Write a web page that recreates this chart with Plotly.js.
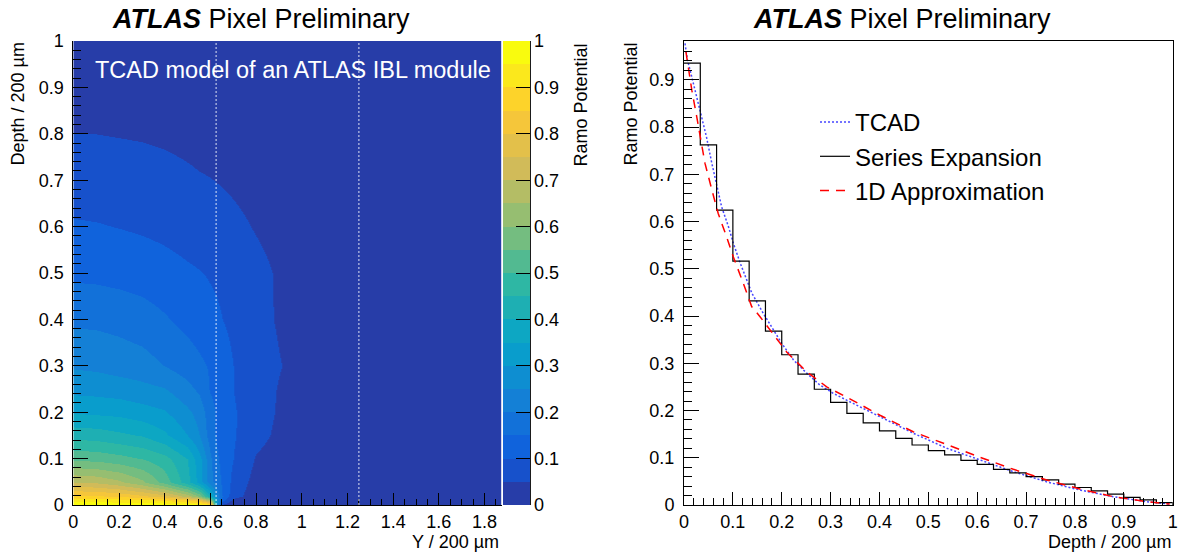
<!DOCTYPE html>
<html><head><meta charset="utf-8">
<script src="https://cdn.plot.ly/plotly-3.0.1.min.js"></script>
<style>html,body{margin:0;padding:0;background:#fff}#chart{width:1181px;height:552px}</style>
</head><body><div id="chart"></div>
<script>
// ---------------- DATA ----------------
// Left panel: Ramo potential map, x = Y / 200 um, rows = depth / 200 um
const mapY = [0, 0.1, 0.2, 0.3, 0.4, 0.5, 0.55, 0.6, 0.625, 0.65, 0.7, 0.8, 0.9, 1.0, 1.2, 1.5, 1.875];
const mapDepth = [0, 0.01, 0.02, 0.05, 0.1, 0.15, 0.2, 0.25, 0.3, 0.4, 0.5, 0.6, 0.7, 0.8, 0.9, 1.0];
const ramoD000 = [0.99, 0.99, 0.99, 0.99, 0.99, 0.99, 0.98, 0.94, 0.35, 0.04, 0, 0, 0, 0, 0, 0, 0];
const ramoD001 = [0.93, 0.93, 0.92, 0.91, 0.89, 0.85, 0.80, 0.64, 0.30, 0.12, 0.035, 0.01, 0, 0, 0, 0, 0];
const ramoD002 = [0.86, 0.855, 0.84, 0.81, 0.77, 0.68, 0.59, 0.40, 0.24, 0.15, 0.07, 0.02, 0.01, 0.005, 0, 0, 0];
const ramoD005 = [0.70, 0.69, 0.66, 0.61, 0.53, 0.42, 0.33, 0.22, 0.18, 0.14, 0.085, 0.03, 0.02, 0.012, 0.006, 0.003, 0];
const ramoD010 = [0.54, 0.535, 0.52, 0.50, 0.47, 0.40, 0.32, 0.21, 0.16, 0.135, 0.10, 0.045, 0.03, 0.02, 0.01, 0.005, 0.002];
const ramoD015 = [0.43, 0.425, 0.41, 0.395, 0.36, 0.30, 0.25, 0.175, 0.145, 0.13, 0.105, 0.065, 0.04, 0.025, 0.012, 0.006, 0.003];
const ramoD020 = [0.345, 0.34, 0.335, 0.32, 0.305, 0.26, 0.23, 0.17, 0.145, 0.135, 0.105, 0.07, 0.045, 0.03, 0.015, 0.008, 0.004];
const ramoD025 = [0.285, 0.282, 0.275, 0.265, 0.253, 0.215, 0.19, 0.145, 0.135, 0.125, 0.10, 0.07, 0.047, 0.032, 0.018, 0.009, 0.005];
const ramoD030 = [0.245, 0.24, 0.23, 0.22, 0.20, 0.175, 0.16, 0.145, 0.135, 0.125, 0.10, 0.075, 0.052, 0.035, 0.02, 0.01, 0.005];
const ramoD040 = [0.19, 0.188, 0.182, 0.172, 0.155, 0.135, 0.125, 0.113, 0.107, 0.10, 0.088, 0.065, 0.045, 0.03, 0.016, 0.008, 0.004];
const ramoD050 = [0.14, 0.138, 0.133, 0.127, 0.118, 0.107, 0.102, 0.096, 0.093, 0.09, 0.082, 0.062, 0.045, 0.03, 0.016, 0.008, 0.004];
const ramoD060 = [0.105, 0.103, 0.099, 0.094, 0.088, 0.08, 0.076, 0.071, 0.069, 0.067, 0.06, 0.047, 0.036, 0.026, 0.014, 0.007, 0.003];
const ramoD070 = [0.078, 0.076, 0.073, 0.069, 0.064, 0.057, 0.053, 0.051, 0.049, 0.047, 0.043, 0.035, 0.027, 0.02, 0.011, 0.005, 0.002];
const ramoD080 = [0.051, 0.05, 0.048, 0.046, 0.043, 0.039, 0.037, 0.035, 0.034, 0.033, 0.03, 0.025, 0.02, 0.015, 0.008, 0.004, 0.002];
const ramoD090 = [0.025, 0.025, 0.024, 0.023, 0.022, 0.02, 0.019, 0.018, 0.017, 0.017, 0.015, 0.012, 0.01, 0.008, 0.004, 0.002, 0.001];
const ramoD100 = [0, 0, 0, 0, 0, 0, 0, 0, 0, 0, 0, 0, 0, 0, 0, 0, 0];
const pixelEdges = [0.625, 1.25];
const colorbarTicks = [0, 0.1, 0.2, 0.3, 0.4, 0.5, 0.6, 0.7, 0.8, 0.9, 1];

// Right panel
const seriesBinValues = [0.935, 0.762, 0.624, 0.516, 0.432, 0.368, 0.318, 0.277, 0.245, 0.217,
  0.194, 0.174, 0.157, 0.141, 0.127, 0.115, 0.106, 0.0946, 0.086, 0.0755,
  0.068, 0.060, 0.053, 0.044, 0.037, 0.030, 0.023, 0.016, 0.011, 0.005];
const tcadDepth = [0.002, 0.007, 0.014, 0.0225, 0.031, 0.04, 0.046, 0.057, 0.067, 0.077, 0.091, 0.101, 0.115,
  0.139, 0.162, 0.183, 0.2, 0.224, 0.251, 0.278, 0.306, 0.346, 0.387, 0.442, 0.469, 0.538, 0.606, 0.674,
  0.742, 0.81, 0.878, 0.947, 0.994];
const tcadRamo = [0.977, 0.942, 0.914, 0.878, 0.843, 0.808, 0.779, 0.723, 0.674, 0.631, 0.589, 0.554, 0.512,
  0.448, 0.406, 0.370, 0.342, 0.307, 0.279, 0.254, 0.236, 0.215, 0.194, 0.165, 0.152, 0.120, 0.095, 0.0705,
  0.049, 0.0317, 0.0176, 0.007, 0.002];
const approxDepth = [0.004, 0.009, 0.016, 0.026, 0.033, 0.043, 0.057, 0.070, 0.087, 0.101, 0.121, 0.1385,
  0.156, 0.183, 0.210, 0.251, 0.292, 0.346, 0.401, 0.469, 0.538, 0.606, 0.674, 0.742, 0.81, 0.878, 0.947, 0.994];
const approxRamo = [0.959, 0.921, 0.878, 0.822, 0.779, 0.723, 0.667, 0.617, 0.568, 0.525, 0.470, 0.420,
  0.398, 0.360, 0.324, 0.282, 0.250, 0.221, 0.19, 0.155, 0.127, 0.101, 0.0755, 0.053, 0.034, 0.0176, 0.007, 0.002];
const legendNames = ['TCAD', 'Series Expansion', '1D Approximation'];

// ---------------- STYLE ----------------
const FONT = 'Liberation Sans, Arial, Helvetica, sans-serif';
const W = 1181, H = 552;
const px = v => v / W;
const py = v => 1 - v / H;

// ROOT kBird palette, 20 contour levels
const birdStops = [0, 0.125, 0.25, 0.375, 0.5, 0.625, 0.75, 0.875, 1];
const birdR = [0.2082, 0.0592, 0.0780, 0.0232, 0.1802, 0.5301, 0.8186, 0.9956, 0.9764];
const birdG = [0.1664, 0.3599, 0.5041, 0.6419, 0.7178, 0.7492, 0.7328, 0.7862, 0.9832];
const birdB = [0.5293, 0.8684, 0.8385, 0.7914, 0.6425, 0.4662, 0.3499, 0.1968, 0.0539];
function bird(t) {
  let k = 0;
  while (k < birdStops.length - 2 && t > birdStops[k + 1]) k++;
  const f = (t - birdStops[k]) / (birdStops[k + 1] - birdStops[k]);
  const c = a => Math.round(255 * (a[k] + f * (a[k + 1] - a[k])));
  return 'rgb(' + c(birdR) + ',' + c(birdG) + ',' + c(birdB) + ')';
}
const nBands = 20;
const colorscale = [];
for (let i = 0; i < nBands; i++) {
  const col = bird(Math.floor((i + 0.99) * 255 / nBands) / 254);
  colorscale.push([i / nBands, col], [(i + 1) / nBands, col]);
}

const mapZ = [ramoD000, ramoD001, ramoD002, ramoD005, ramoD010, ramoD015, ramoD020, ramoD025, ramoD030,
  ramoD040, ramoD050, ramoD060, ramoD070, ramoD080, ramoD090, ramoD100];

const nBins = seriesBinValues.length;
const seriesX = Array.from({length: nBins + 1}, (_, i) => i / nBins);
const seriesY = seriesBinValues.concat([0]);

const yTop = 41, yBot = 505;
const yDom = [1 - yBot / H, 1 - yTop / H];

const traces = [
  {
    type: 'heatmap', x: mapY, y: mapDepth, z: mapZ, xaxis: 'x', yaxis: 'y',
    zmin: 0, zmax: 1, zsmooth: 'best', colorscale: colorscale, showlegend: false, hoverinfo: 'skip',
    colorbar: {
      x: px(503.3), xanchor: 'left', xref: 'paper', xpad: 0,
      y: yDom[0], yanchor: 'bottom', yref: 'paper', ypad: 0,
      len: yBot - yTop, lenmode: 'pixels', thickness: 27, thicknessmode: 'pixels',
      outlinewidth: 0, borderwidth: 0, ticks: 'inside', ticklen: 14, tickwidth: 1, tickcolor: 'black',
      tickmode: 'array', tickvals: colorbarTicks, ticktext: colorbarTicks.map(String),
      tickfont: {family: FONT, size: 18, color: 'black'}
    }
  },
  {
    type: 'scatter', mode: 'lines', x: tcadDepth, y: tcadRamo, xaxis: 'x2', yaxis: 'y2',
    name: legendNames[0], line: {color: 'rgb(70,70,255)', width: 1.5, dash: '2px,2px'}
  },
  {
    type: 'scatter', mode: 'lines', x: seriesX, y: seriesY, xaxis: 'x2', yaxis: 'y2',
    name: legendNames[1], line: {color: 'black', width: 1.2, shape: 'hv'}
  },
  {
    type: 'scatter', mode: 'lines', x: approxDepth, y: approxRamo, xaxis: 'x2', yaxis: 'y2',
    name: legendNames[2], line: {color: 'rgb(255,0,0)', width: 1.5, dash: '9px,7px'}
  }
];

function axis(extra, minorDtick, minorLen) {
  return Object.assign({
    showgrid: false, zeroline: false, showline: true, linecolor: 'black', linewidth: 1,
    ticks: 'inside', tickcolor: 'black', tickwidth: 1, tick0: 0, fixedrange: true,
    tickfont: {family: FONT, size: 18, color: 'black'}, layer: 'above traces',
    minor: {ticks: 'inside', ticklen: minorLen, tickcolor: 'black', tickwidth: 1, dtick: minorDtick, showgrid: false}
  }, extra);
}

const ann = (text, x, y, opts) => Object.assign({
  text: text, x: x, y: y, xref: 'paper', yref: 'paper', showarrow: false,
  font: {family: FONT, size: 18, color: 'black'}
}, opts || {});

const layout = {
  width: W, height: H, margin: {l: 0, r: 0, t: 0, b: 0},
  paper_bgcolor: 'white', plot_bgcolor: 'white',
  font: {family: FONT, size: 18, color: 'black'},
  showlegend: true,
  legend: {x: px(815), y: py(100), xanchor: 'left', yanchor: 'top', bgcolor: 'rgba(0,0,0,0)',
    borderwidth: 0, font: {family: FONT, size: 24, color: 'black'}, tracegroupgap: 0},
  xaxis: axis({domain: [px(73.3), px(501.7)], range: [0, 1.875], dtick: 0.2, ticklen: 12, anchor: 'y', ticklabelstandoff: 0}, 0.05, 6),
  yaxis: axis({domain: yDom, range: [0, 1], dtick: 0.1, ticklen: 15, anchor: 'x', ticklabelstandoff: 5}, 0.02, 8),
  xaxis2: axis({domain: [px(684), px(1172.7)], range: [0, 1], dtick: 0.1, ticklen: 13, anchor: 'y2', mirror: true, ticklabelstandoff: 0}, 0.02, 7),
  yaxis2: axis({domain: yDom, range: [0, 0.982], dtick: 0.1, ticklen: 15, anchor: 'x2', mirror: true, ticklabelstandoff: 5}, 0.02, 8),
  shapes: pixelEdges.map(e => ({type: 'line', xref: 'x', yref: 'y', x0: e, x1: e, y0: 0, y1: 1,
      line: {color: 'rgba(255,255,255,0.85)', width: 1, dash: '2px,2px'}, layer: 'above'}))
    .concat([{type: 'line', xref: 'paper', yref: 'paper', x0: px(530.4), x1: px(530.4), y0: yDom[0], y1: yDom[1],
      line: {color: 'black', width: 1}, layer: 'above'}]),
  annotations: [
    ann('<b><i>ATLAS</i></b> Pixel Preliminary', px(260.5), py(19), {xanchor: 'center', yanchor: 'middle', font: {family: FONT, size: 27, color: 'black'}}),
    ann('<b><i>ATLAS</i></b> Pixel Preliminary', px(901.5), py(19), {xanchor: 'center', yanchor: 'middle', font: {family: FONT, size: 27, color: 'black'}}),
    ann('TCAD model of an ATLAS IBL module', px(93), py(70), {xanchor: 'left', yanchor: 'middle', font: {family: FONT, size: 23.5, color: 'white'}}),
    ann('Depth / 200 µm', px(17), py(41), {xanchor: 'center', yanchor: 'top', textangle: -90}),
    ann('Y / 200 µm', px(501), py(542), {xanchor: 'right', yanchor: 'middle'}),
    ann('Ramo Potential', px(580), py(42), {xanchor: 'center', yanchor: 'top', textangle: -90}),
    ann('Ramo Potential', px(630), py(41), {xanchor: 'center', yanchor: 'top', textangle: -90}),
    ann('Depth / 200 µm', px(1173), py(542), {xanchor: 'right', yanchor: 'middle'})
  ]
};

Plotly.newPlot('chart', traces, layout, {displayModeBar: false, staticPlot: true});
</script>
</body></html>
